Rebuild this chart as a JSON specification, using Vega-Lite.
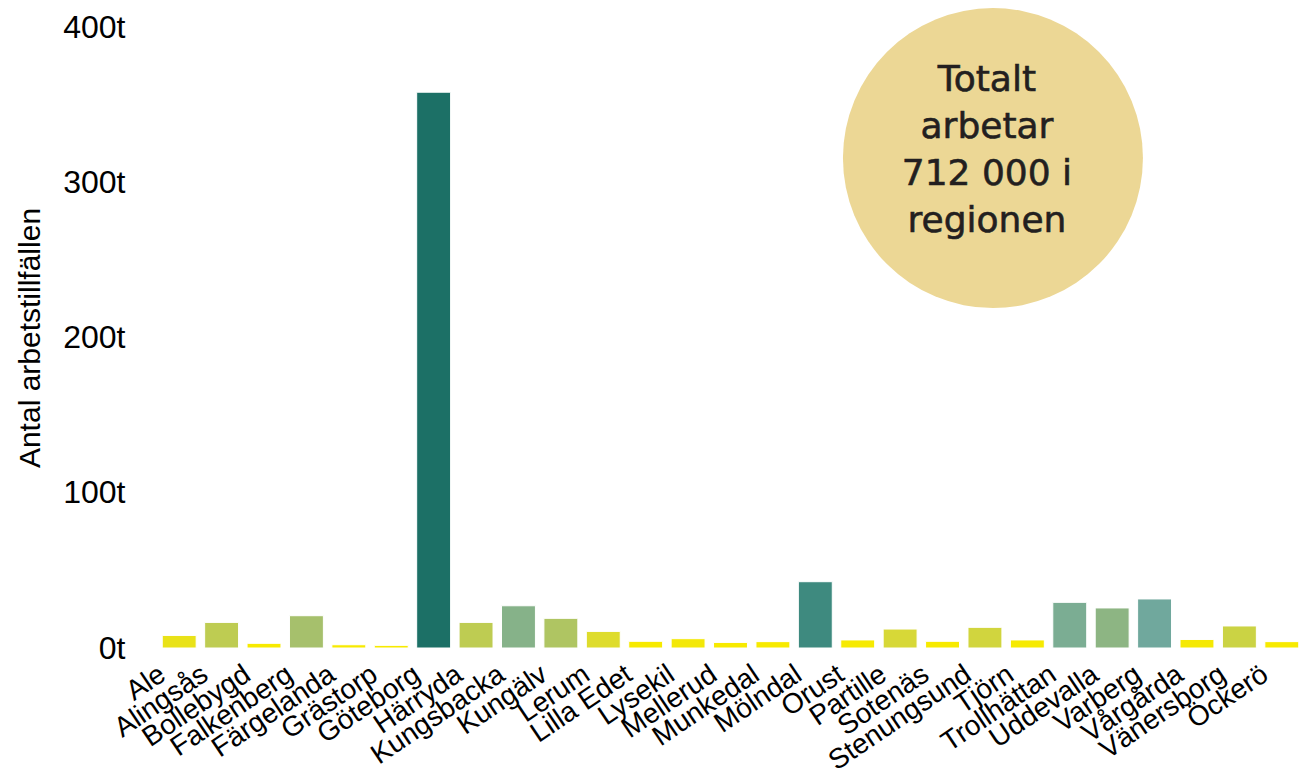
{
  "$schema": "https://vega.github.io/schema/vega-lite/v6.json",
  "width": 1145,
  "height": 621,
  "autosize": {"type": "none"},
  "padding": {"left": 158, "top": 27, "right": 1, "bottom": 127},
  "background": "#ffffff",
  "config": {
    "view": {"stroke": null},
    "font": "Liberation Sans"
  },
  "datasets": {
    "jobs": [
      {"kommun": "Ale", "antal": 8.1},
      {"kommun": "Alingsås", "antal": 16.5},
      {"kommun": "Bollebygd", "antal": 3.0},
      {"kommun": "Falkenberg", "antal": 20.8},
      {"kommun": "Färgelanda", "antal": 2.1},
      {"kommun": "Grästorp", "antal": 1.7},
      {"kommun": "Göteborg", "antal": 358},
      {"kommun": "Härryda", "antal": 16.5},
      {"kommun": "Kungsbacka", "antal": 27.2},
      {"kommun": "Kungälv", "antal": 19.1},
      {"kommun": "Lerum", "antal": 10.7},
      {"kommun": "Lilla Edet", "antal": 4.3},
      {"kommun": "Lysekil", "antal": 6.0},
      {"kommun": "Mellerud", "antal": 3.6},
      {"kommun": "Munkedal", "antal": 4.1},
      {"kommun": "Mölndal", "antal": 42.7},
      {"kommun": "Orust", "antal": 5.2},
      {"kommun": "Partille", "antal": 12.2},
      {"kommun": "Sotenäs", "antal": 4.3},
      {"kommun": "Stenungsund", "antal": 13.3},
      {"kommun": "Tjörn", "antal": 5.2},
      {"kommun": "Trollhättan", "antal": 29.4},
      {"kommun": "Uddevalla", "antal": 25.8},
      {"kommun": "Varberg", "antal": 31.6},
      {"kommun": "Vårgårda", "antal": 5.5},
      {"kommun": "Vänersborg", "antal": 14.2},
      {"kommun": "Öckerö", "antal": 4.1}
    ],
    "note": [
      {"kommun": "Stenungsund", "cirkel": 315.6, "textpos": 365.7, "text": "Totalt\narbetar\n712 000 i\nregionen"}
    ]
  },
  "layer": [
    {
      "data": {"name": "jobs"},
      "mark": {"type": "bar", "stroke": "#ffffff", "strokeWidth": 1},
      "encoding": {
        "x": {
          "field": "kommun",
          "type": "nominal",
          "sort": null,
          "scale": {"paddingInner": 0.2, "paddingOuter": 0.1},
          "axis": {
            "title": null,
            "labelAngle": -34,
            "labelFontSize": 28,
            "labelColor": "#000000",
            "labelFont": "Liberation Sans",
            "domain": false,
            "ticks": false,
            "labelPadding": 12,
            "labelOffset": -24,
            "labelOverlap": false
          }
        },
        "y": {
          "field": "antal",
          "type": "quantitative",
          "scale": {"domain": [0, 400]},
          "axis": {
            "title": "Antal arbetstillfällen",
            "titleFontSize": 30,
            "titleFontWeight": "normal",
            "titleColor": "#000000",
            "titleFont": "Liberation Sans",
            "titlePadding": 17,
            "values": [0, 100, 200, 300, 400],
            "labelExpr": "datum.value + 't'",
            "labelFontSize": 32,
            "labelColor": "#000000",
            "labelPadding": 33,
            "domain": false,
            "ticks": false,
            "grid": false
          }
        },
        "color": {
          "field": "antal",
          "type": "quantitative",
          "legend": null,
          "scale": {
            "domain": [5, 12, 20, 32, 43, 358],
            "range": ["#f7ea00", "#d8d936", "#aac268", "#6ea79f", "#3d897e", "#1c7066"],
            "interpolate": "rgb",
            "clamp": true
          }
        }
      }
    },
    {
      "data": {"name": "note"},
      "mark": {"type": "point", "shape": "circle", "filled": true, "size": 90000, "color": "#ecd795", "opacity": 1, "xOffset": 8},
      "encoding": {
        "x": {"field": "kommun", "type": "nominal", "sort": null},
        "y": {"field": "cirkel", "type": "quantitative"}
      }
    },
    {
      "data": {"name": "note"},
      "mark": {"type": "text", "lineBreak": "\n", "lineHeight": 47, "fontSize": 36, "font": "DejaVu Sans", "color": "#231f20", "stroke": "#231f20", "strokeWidth": 0.6, "align": "center", "baseline": "middle", "xOffset": 2},
      "encoding": {
        "x": {"field": "kommun", "type": "nominal", "sort": null},
        "y": {"field": "textpos", "type": "quantitative"},
        "text": {"field": "text"}
      }
    }
  ]
}
